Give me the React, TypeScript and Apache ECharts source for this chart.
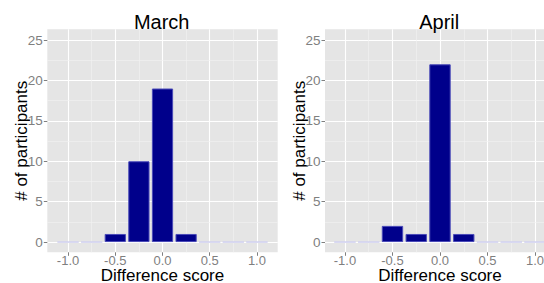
import React, { useEffect, useRef } from "react";
import * as echarts from "echarts";

const binCenters = [-1, -0.75, -0.5, -0.25, 0, 0.25, 0.5, 0.75, 1];
const marchCounts = [0, 0, 1, 10, 19, 1, 0, 0, 0];
const aprilCounts = [0, 0, 2, 1, 22, 1, 0, 0, 0];
const xTickValues = [-1, -0.5, 0, 0.5, 1];
const yTickValues = [0, 5, 10, 15, 20, 25];
const xMinorValues = [-0.75, -0.25, 0.25, 0.75];
const yMinorValues = [2.5, 7.5, 12.5, 17.5, 22.5];
const panelTitles = ["March", "April"];
const xAxisTitle = "Difference score";
const yAxisTitle = "# of participants";

const FONT = "Liberation Sans, Arial, sans-serif";
const binWidth = 0.25;

export default function App() {
  const ref = useRef<HTMLDivElement>(null);
  useEffect(() => {
    if (!ref.current) return;
    const chart = echarts.init(ref.current, undefined, { renderer: "svg" });

    const panels = [
      { left: 47.3, width: 230.4, xMin: -1.22, xMax: 1.22, counts: marchCounts },
      { left: 325, width: 230, xMin: -1.21, xMax: 1.21, counts: aprilCounts },
    ];
    const top = 29.3;
    const height = 223;
    const yMin = -1.27;
    const yMax = 26.33;

    const grid = panels.map((p) => ({
      left: p.left,
      top,
      width: p.width,
      height,
      show: true,
      backgroundColor: "#E5E5E5",
      borderWidth: 0,
      containLabel: false,
      outerBoundsMode: "none",
    }));

    const xAxis = panels.map((p, i) => ({
      type: "value",
      gridIndex: i,
      min: p.xMin,
      max: p.xMax,
      name: xAxisTitle,
      nameLocation: "middle",
      nameGap: 14.5,
      nameMoveOverlap: false,
      nameTextStyle: { fontFamily: FONT, fontSize: 17, color: "#000" },
      axisLine: { show: false, onZero: false },
      axisTick: {
        show: true,
        length: 3.5,
        customValues: xTickValues,
        lineStyle: { color: "#7F7F7F", width: 1 },
      },
      axisLabel: {
        customValues: xTickValues,
        formatter: (v: number) => v.toFixed(1),
        color: "#7F7F7F",
        fontFamily: FONT,
        fontSize: 13,
        margin: 2,
      },
      splitLine: { show: true, lineStyle: { color: "#FFFFFF", width: 1.1 } },
    }));

    const yAxis = panels.map((p, i) => ({
      type: "value",
      gridIndex: i,
      min: yMin,
      max: yMax,
      name: yAxisTitle,
      nameLocation: "middle",
      nameGap: 17.5,
      nameMoveOverlap: false,
      nameTextStyle: { fontFamily: FONT, fontSize: 17, color: "#000" },
      axisLine: { show: false, onZero: false },
      axisTick: {
        show: true,
        length: 3.5,
        customValues: yTickValues,
        lineStyle: { color: "#7F7F7F", width: 1 },
      },
      axisLabel: {
        customValues: yTickValues,
        color: "#7F7F7F",
        fontFamily: FONT,
        fontSize: 13.5,
        margin: 4.5,
      },
      splitLine: { show: true, lineStyle: { color: "#FFFFFF", width: 1.1 } },
    }));

    const series = panels.map((p, i) => {
      const pxPerUnit = p.width / (p.xMax - p.xMin);
      return {
        type: "bar",
        xAxisIndex: i,
        yAxisIndex: i,
        barWidth: binWidth * 0.9 * pxPerUnit,
        barGap: "-100%",
        z: 3,
        itemStyle: {
          color: "#00008B",
          borderColor: "#4A4AB8",
          borderWidth: 1,
        },
        data: binCenters.map((x, k) => {
          const c = p.counts[k];
          return c === 0
            ? { value: [x, c], itemStyle: { borderColor: "#CFCFEF" } }
            : { value: [x, c] };
        }),
        markLine: {
          silent: true,
          z: 1,
          symbol: ["none", "none"],
          label: { show: false },
          lineStyle: { color: "#F2F2F2", width: 0.6, type: "solid" },
          data: [
            ...xMinorValues.map((v) => ({ xAxis: v })),
            ...yMinorValues.map((v) => ({ yAxis: v })),
          ],
        },
      };
    });

    const graphic = panels.map((p, i) => ({
      type: "text",
      x: p.left + p.width / 2 - 0.8,
      y: 21.5,
      style: {
        text: panelTitles[i],
        align: "center",
        verticalAlign: "middle",
        fontFamily: FONT,
        fontSize: 20,
        fill: "#000",
      },
    }));

    chart.setOption({
      animation: false,
      backgroundColor: "#FFFFFF",
      grid,
      xAxis,
      yAxis,
      series,
      graphic,
    } as any);

    return () => chart.dispose();
  }, []);

  return (
    <div
      ref={ref}
      style={{ position: "absolute", left: 0, top: 0, width: 544, height: 283 }}
    />
  );
}
